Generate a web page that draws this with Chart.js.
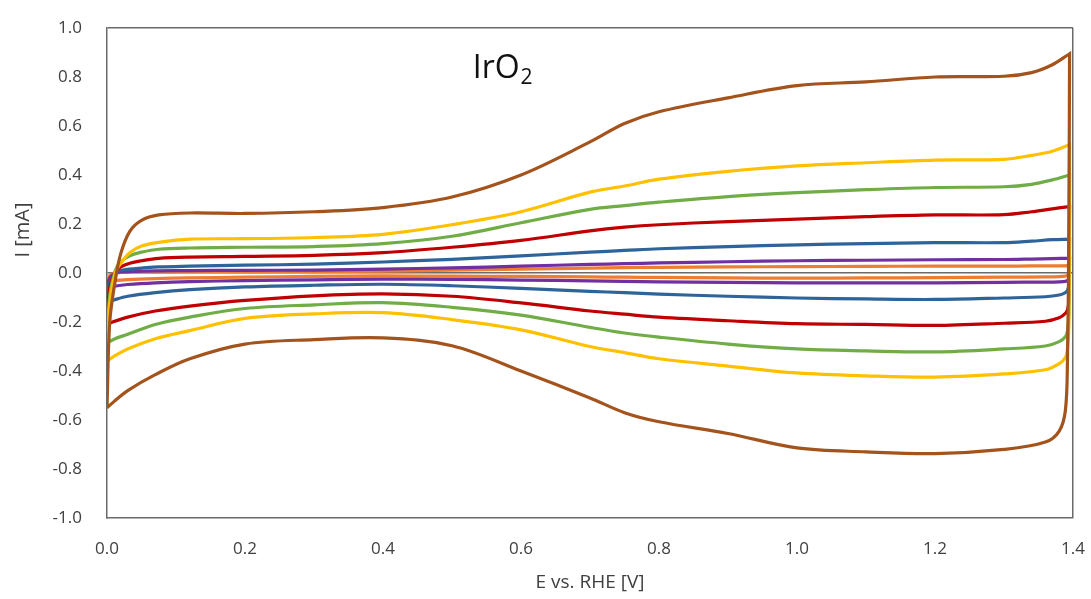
<!DOCTYPE html>
<html>
<head>
<meta charset="utf-8">
<script src="https://cdn.jsdelivr.net/npm/chart.js@4/dist/chart.umd.min.js"></script>
<style>
  html, body { margin: 0; padding: 0; background: #ffffff; }
  #wrap { width: 1091px; height: 599px; }
</style>
</head>
<body>
<div id="wrap"><canvas id="c" width="1091" height="599"></canvas></div>
<script>
// ---- Data ----
const ANODIC_E = [0, 0.004, 0.012, 0.02, 0.033, 0.05, 0.075, 0.12, 0.2, 0.3, 0.4, 0.5, 0.6, 0.7, 0.75, 0.8, 0.9, 1.0, 1.1, 1.2, 1.3, 1.34, 1.37, 1.395];
const CATHODIC_E = [1.395, 1.394, 1.392, 1.389, 1.38, 1.36, 1.3, 1.2, 1.1, 1.0, 0.9, 0.8, 0.75, 0.7, 0.6, 0.5, 0.4, 0.3, 0.2, 0.12, 0.07, 0.03, 0.01, 0];

const BROWN_UP = [-0.55, -0.20, -0.03, 0.08, 0.17, 0.215, 0.237, 0.245, 0.243, 0.25, 0.267, 0.31, 0.40, 0.535, 0.61, 0.658, 0.715, 0.765, 0.78, 0.80, 0.803, 0.818, 0.85, 0.895];
const BROWN_DOWN = [0.895, 0.2, -0.35, -0.56, -0.645, -0.69, -0.72, -0.737, -0.73, -0.714, -0.655, -0.607, -0.57, -0.51, -0.40, -0.297, -0.265, -0.272, -0.29, -0.35, -0.415, -0.48, -0.525, -0.55];

const YELLOW_UP = [-0.36, -0.12, 0.0, 0.04, 0.083, 0.11, 0.125, 0.138, 0.14, 0.145, 0.158, 0.197, 0.25, 0.33, 0.355, 0.383, 0.415, 0.437, 0.45, 0.461, 0.464, 0.48, 0.497, 0.524];
const YELLOW_DOWN = [0.524, -0.21, -0.31, -0.345, -0.37, -0.395, -0.412, -0.425, -0.42, -0.408, -0.38, -0.35, -0.325, -0.30, -0.232, -0.19, -0.162, -0.167, -0.185, -0.235, -0.268, -0.31, -0.34, -0.36];

const GREEN_UP = [-0.285, -0.09, 0.01, 0.045, 0.07, 0.085, 0.097, 0.102, 0.105, 0.108, 0.12, 0.15, 0.205, 0.26, 0.275, 0.289, 0.312, 0.328, 0.34, 0.349, 0.352, 0.362, 0.38, 0.40];
const GREEN_DOWN = [0.40, -0.17, -0.237, -0.26, -0.28, -0.298, -0.31, -0.322, -0.318, -0.31, -0.29, -0.262, -0.245, -0.222, -0.172, -0.14, -0.121, -0.13, -0.145, -0.18, -0.21, -0.25, -0.27, -0.285];

const RED_UP = [-0.21, -0.06, 0.005, 0.025, 0.04, 0.05, 0.06, 0.065, 0.068, 0.072, 0.083, 0.105, 0.133, 0.172, 0.187, 0.197, 0.21, 0.22, 0.23, 0.237, 0.238, 0.25, 0.262, 0.271];
const RED_DOWN = [0.271, -0.12, -0.15, -0.165, -0.183, -0.197, -0.205, -0.214, -0.21, -0.207, -0.195, -0.18, -0.168, -0.155, -0.122, -0.095, -0.085, -0.093, -0.112, -0.135, -0.155, -0.18, -0.198, -0.21];

const BLUE_UP = [-0.12, -0.04, 0.0, 0.01, 0.016, 0.02, 0.025, 0.028, 0.032, 0.036, 0.045, 0.056, 0.07, 0.085, 0.092, 0.099, 0.108, 0.115, 0.12, 0.124, 0.124, 0.13, 0.136, 0.138];
const BLUE_DOWN = [0.138, -0.05, -0.07, -0.08, -0.09, -0.097, -0.102, -0.108, -0.106, -0.102, -0.095, -0.086, -0.08, -0.075, -0.063, -0.052, -0.046, -0.05, -0.057, -0.068, -0.08, -0.095, -0.11, -0.12];

const PURPLE_UP = [-0.06, -0.02, 0.0, 0.004, 0.006, 0.008, 0.009, 0.01, 0.011, 0.012, 0.016, 0.021, 0.028, 0.035, 0.038, 0.041, 0.046, 0.05, 0.052, 0.054, 0.055, 0.057, 0.059, 0.06];
const PURPLE_DOWN = [0.06, -0.02, -0.03, -0.034, -0.036, -0.037, -0.038, -0.04, -0.04, -0.04, -0.038, -0.036, -0.034, -0.032, -0.029, -0.026, -0.025, -0.028, -0.031, -0.035, -0.04, -0.047, -0.054, -0.06];

const ORANGE_UP = [-0.035, -0.01, 0.0, 0.002, 0.003, 0.004, 0.004, 0.005, 0.005, 0.006, 0.008, 0.012, 0.016, 0.02, 0.022, 0.023, 0.025, 0.026, 0.027, 0.028, 0.028, 0.029, 0.029, 0.03];
const ORANGE_DOWN = [0.03, -0.005, -0.01, -0.013, -0.015, -0.016, -0.017, -0.019, -0.02, -0.021, -0.02, -0.018, -0.017, -0.016, -0.014, -0.013, -0.012, -0.014, -0.017, -0.02, -0.023, -0.027, -0.031, -0.035];

const X_TICKS = [0, 0.2, 0.4, 0.6, 0.8, 1.0, 1.2, 1.4];
const Y_TICKS = [-1.0, -0.8, -0.6, -0.4, -0.2, 0.0, 0.2, 0.4, 0.6, 0.8, 1.0];

// series, brown first so it is drawn on top (Chart.js draws first dataset last)
const SERIES = [
  { up: BROWN_UP,  down: BROWN_DOWN,  color: '#A3531B' },
  { up: YELLOW_UP, down: YELLOW_DOWN, color: '#FFC000' },
  { up: GREEN_UP,  down: GREEN_DOWN,  color: '#70AD47' },
  { up: RED_UP,    down: RED_DOWN,    color: '#C00000' },
  { up: BLUE_UP,   down: BLUE_DOWN,   color: '#2E6499' },
  { up: PURPLE_UP, down: PURPLE_DOWN, color: '#7030A0' },
  { up: ORANGE_UP, down: ORANGE_DOWN, color: '#ED7D31' }
];

const FONT = "'Open Sans', 'Liberation Sans', sans-serif";
const TEXT = '#404040';
const LINE = '#6b6b6b';

const datasets = SERIES.map(s => ({
  data: ANODIC_E.map((e, i) => ({ x: e, y: s.up[i] }))
        .concat(CATHODIC_E.map((e, i) => ({ x: e, y: s.down[i] }))),
  borderColor: s.color,
  backgroundColor: s.color,
  borderWidth: 3.2,
  pointRadius: 0,
  showLine: true,
  tension: 0.35,
  fill: false
}));

const near = (a, b) => Math.abs(a - b) < 1e-6;

const textPlugin = {
  id: 'texts',
  afterDraw(chart) {
    const { ctx, scales } = chart;
    ctx.save();
    // y-axis title
    ctx.fillStyle = TEXT;
    ctx.font = "20px " + FONT;
    ctx.textAlign = 'center';
    ctx.textBaseline = 'middle';
    ctx.translate(23, 230);
    ctx.rotate(-Math.PI / 2);
    ctx.fillText('I [mA]', 0, 0);
    ctx.restore();

    // IrO2 label placed in data coordinates
    ctx.save();
    const x0 = scales.x.getPixelForValue(0.53);
    const yb = scales.y.getPixelForValue(0.797);
    ctx.fillStyle = '#111111';
    ctx.textAlign = 'left';
    ctx.textBaseline = 'alphabetic';
    ctx.font = "32px " + FONT;
    ctx.fillText('IrO', x0, yb);
    const w = ctx.measureText('IrO').width;
    ctx.font = "21px " + FONT;
    ctx.fillText('2', x0 + w + 1, yb + 6);
    ctx.restore();
  }
};

new Chart(document.getElementById('c'), {
  type: 'scatter',
  data: { datasets },
  options: {
    responsive: false,
    animation: false,
    layout: { padding: { left: 0, right: 18, top: 28, bottom: 0 } },
    plugins: { legend: { display: false }, tooltip: { enabled: false } },
    scales: {
      x: {
        type: 'linear',
        min: 0, max: 1.4,
        afterBuildTicks: s => { s.ticks = X_TICKS.map(v => ({ value: v })); },
        afterFit: s => { s.height = 81; s.paddingLeft = 0; s.paddingRight = 0; s.paddingTop = 0; s.paddingBottom = 0; },
        ticks: {
          callback: v => Number(v).toFixed(1),
          font: { family: FONT, size: 17 },
          color: TEXT,
          padding: 21,
          maxRotation: 0,
          autoSkip: false
        },
        grid: {
          drawTicks: false,
          color: c => (c.tick && near(c.tick.value, 1.4)) ? LINE : 'rgba(0,0,0,0)',
          lineWidth: 1.5
        },
        border: { display: true, color: LINE, width: 1.5 },
        title: {
          display: true,
          text: 'E vs. RHE [V]',
          font: { family: FONT, size: 19 },
          color: TEXT,
          padding: { top: 0, bottom: 5 }
        }
      },
      y: {
        type: 'linear',
        min: -1, max: 1,
        afterBuildTicks: s => { s.ticks = Y_TICKS.map(v => ({ value: v })); },
        afterFit: s => { s.width = 107; s.paddingLeft = 0; s.paddingRight = 0; s.paddingTop = 0; s.paddingBottom = 0; },
        ticks: {
          callback: v => Number(v).toFixed(1),
          font: { family: FONT, size: 17 },
          color: TEXT,
          padding: 25,
          autoSkip: false
        },
        grid: {
          drawTicks: false,
          color: c => (c.tick && (near(c.tick.value, 0) || near(c.tick.value, 1))) ? LINE : 'rgba(0,0,0,0)',
          lineWidth: 1.5
        },
        border: { display: true, color: LINE, width: 1.5 }
      }
    }
  },
  plugins: [textPlugin]
});
</script>
</body>
</html>
